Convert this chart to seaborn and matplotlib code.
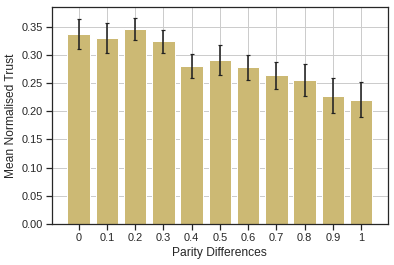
import numpy as np
import pandas as pd
import matplotlib
matplotlib.use('Agg')
import matplotlib.pyplot as plt
import seaborn as sns

parity = [0, 0.1, 0.2, 0.3, 0.4, 0.5, 0.6, 0.7, 0.8, 0.9, 1.0]
tick_labels = ['0', '0.1', '0.2', '0.3', '0.4', '0.5', '0.6', '0.7', '0.8', '0.9', '1']
mean_trust = [0.337, 0.330, 0.346, 0.324, 0.280, 0.291, 0.278, 0.264, 0.255, 0.227, 0.220]
trust_err = [0.026, 0.026, 0.019, 0.020, 0.021, 0.026, 0.022, 0.024, 0.028, 0.031, 0.031]

sns.set_theme(context='notebook', style='ticks', rc={'axes.grid': True})
plt.rcParams['font.family'] = ['Liberation Sans', 'DejaVu Sans']

df = pd.DataFrame({'Parity': parity, 'Trust': mean_trust, 'Err': trust_err})

fig, ax = plt.subplots(figsize=(394 / 72, 265 / 72), dpi=72)
sns.barplot(data=df, x='Parity', y='Trust', native_scale=True, color='#CCB974',
            saturation=1, width=0.8, errorbar=None, ax=ax, zorder=2)
ax.errorbar(df['Parity'], df['Trust'], yerr=df['Err'], fmt='none', ecolor='#222222',
            elinewidth=1.6, capsize=2, capthick=1.2, zorder=3)

ax.set_xlim(-0.094, 1.094)
ax.set_ylim(0, 0.384)
ax.set_xticks(parity)
ax.set_xticklabels(tick_labels)
ax.set_yticks(np.arange(0, 0.36, 0.05))
ax.set_axisbelow(True)
ax.set_xlabel('Parity Differences')
ax.set_ylabel('Mean Normalised Trust')

fig.subplots_adjust(left=0.132, right=0.984, top=0.972, bottom=0.155)
fig.savefig('out.png', dpi=72)
